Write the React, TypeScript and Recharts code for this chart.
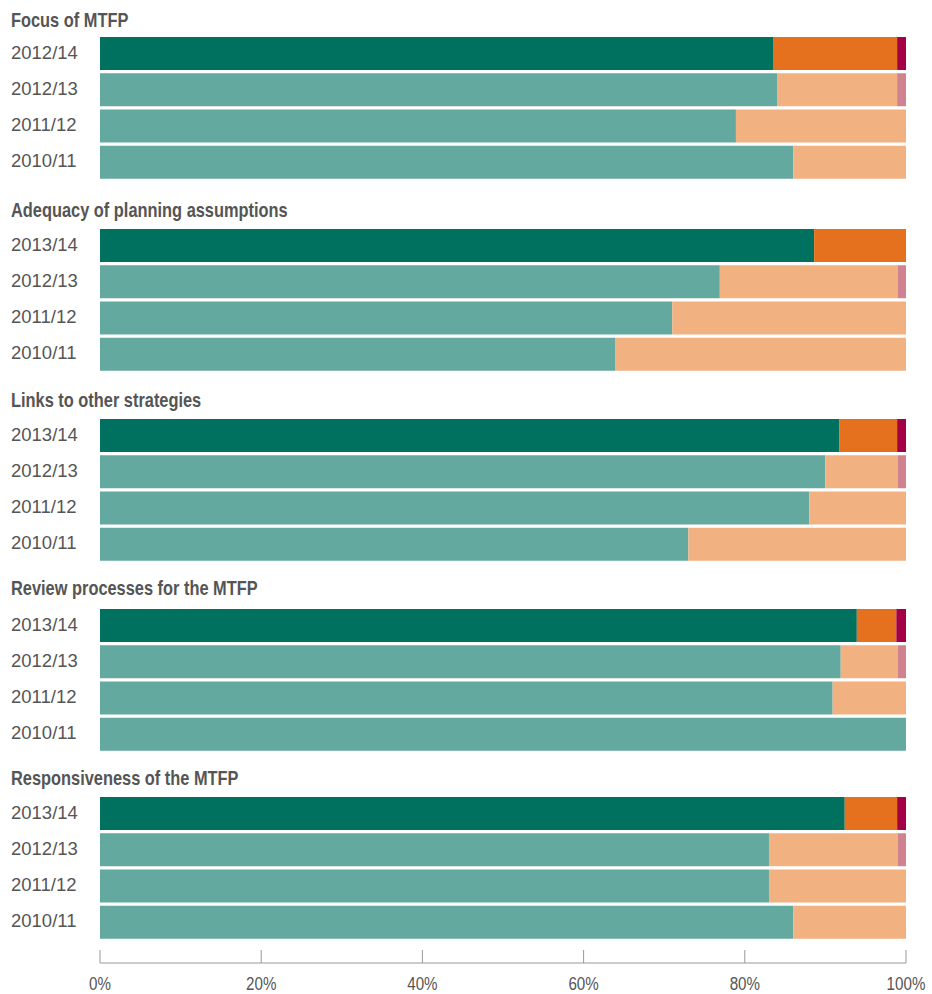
import React from 'react';
import { BarChart, Bar, XAxis, YAxis, Cell } from 'recharts';

// Section titles, top to bottom
const GROUP_TITLES = [
  'Focus of MTFP',
  'Adequacy of planning assumptions',
  'Links to other strategies',
  'Review processes for the MTFP',
  'Responsiveness of the MTFP',
];

// Year labels per row
const YEARS_FOCUS = ['2012/14', '2012/13', '2011/12', '2010/11'];
const YEARS = ['2013/14', '2012/13', '2011/12', '2010/11'];

// Percent shares: first / second / third segment of each bar
const FOCUS_A = [83.5, 84.0, 78.9, 86.0];
const FOCUS_B = [15.4, 14.9, 21.1, 14.0];
const FOCUS_C = [1.1, 1.1, 0, 0];

const ADEQUACY_A = [88.6, 76.9, 71.0, 63.9];
const ADEQUACY_B = [11.4, 22.1, 29.0, 36.1];
const ADEQUACY_C = [0, 1.0, 0, 0];

const LINKS_A = [91.7, 90.0, 88.0, 73.0];
const LINKS_B = [7.2, 9.0, 12.0, 27.0];
const LINKS_C = [1.1, 1.0, 0, 0];

const REVIEW_A = [93.9, 91.9, 90.9, 100];
const REVIEW_B = [4.9, 7.1, 9.1, 0];
const REVIEW_C = [1.2, 1.0, 0, 0];

const RESPONSIVE_A = [92.4, 83.0, 83.0, 86.0];
const RESPONSIVE_B = [6.5, 16.0, 17.0, 14.0];
const RESPONSIVE_C = [1.1, 1.0, 0, 0];

const X_TICKS = [0, 20, 40, 60, 80, 100];

// Latest year uses the strong palette, earlier years the pale one
const COLORS_CURRENT = ['#00705F', '#E5711F', '#A30046'];
const COLORS_PRIOR = ['#64A9A0', '#F2B181', '#CF828F'];

type Row = { year: string; a: number; b: number; c: number };

const buildRows = (years: string[], a: number[], b: number[], c: number[]): Row[] =>
  years.map((year, i) => ({ year, a: a[i], b: b[i], c: c[i] }));

const GROUP_ROWS: Row[][] = [
  buildRows(YEARS_FOCUS, FOCUS_A, FOCUS_B, FOCUS_C),
  buildRows(YEARS, ADEQUACY_A, ADEQUACY_B, ADEQUACY_C),
  buildRows(YEARS, LINKS_A, LINKS_B, LINKS_C),
  buildRows(YEARS, REVIEW_A, REVIEW_B, REVIEW_C),
  buildRows(YEARS, RESPONSIVE_A, RESPONSIVE_B, RESPONSIVE_C),
];

// Layout
const WIDTH = 932;
const HEIGHT = 994;
const PLOT_LEFT = 100;
const PLOT_RIGHT = 26;
const GROUP_TOPS = [35.4, 227.4, 417.4, 606.7, 795.4];
const TITLE_BASELINES = [26.7, 216.7, 406.7, 595, 784.7];
const GROUP_HEIGHT = 145;
const BAR_SIZE = 33;
const AXIS_CHART_TOP = 933;
const AXIS_PLOT_HEIGHT = 30;
const AXIS_AREA_HEIGHT = 31;

const TEXT_COLOR = '#555555';
const FONT = "'Liberation Sans', Arial, sans-serif";
// Condensed look: regular sans squeezed horizontally
const NARROW = 0.82;

const YearTick = (props: any) => {
  const { y, payload } = props;
  return (
    <text x={11} y={y} dy={5.4} fill={TEXT_COLOR} fontSize={18.5} fontFamily={FONT} textAnchor="start">
      {payload.value}
    </text>
  );
};

const PercentTick = (props: any) => {
  const { x, y, payload } = props;
  return (
    <g>
      <line x1={x} x2={x} y1={y - 13} y2={y} stroke="#999999" strokeWidth={1} />
      <text
        transform={`translate(${x} ${y + 26.5}) scale(${NARROW} 1)`}
        fill={TEXT_COLOR}
        fontSize={18.5}
        fontFamily={FONT}
        textAnchor="middle"
      >
        {`${payload.value}%`}
      </text>
    </g>
  );
};

const SEGMENTS: Array<keyof Omit<Row, 'year'>> = ['a', 'b', 'c'];

const GroupChart = ({ rows, top }: { rows: Row[]; top: number }) => (
  <div style={{ position: 'absolute', left: 0, top }}>
    <BarChart
      layout="vertical"
      width={WIDTH}
      height={GROUP_HEIGHT}
      data={rows}
      margin={{ top: 0, right: PLOT_RIGHT, bottom: 0, left: 0 }}
      barCategoryGap={0}
    >
      <XAxis type="number" domain={[0, 100]} hide allowDataOverflow />
      <YAxis
        type="category"
        dataKey="year"
        width={PLOT_LEFT}
        axisLine={false}
        tickLine={false}
        tick={<YearTick />}
        interval={0}
      />
      {SEGMENTS.map((key, si) => (
        <Bar key={key} dataKey={key} stackId="share" barSize={BAR_SIZE} isAnimationActive={false}>
          {rows.map((row, ri) => (
            <Cell key={row.year + ri} fill={ri === 0 ? COLORS_CURRENT[si] : COLORS_PRIOR[si]} />
          ))}
        </Bar>
      ))}
    </BarChart>
  </div>
);

const AxisChart = ({ rows }: { rows: Row[] }) => (
  <div style={{ position: 'absolute', left: 0, top: AXIS_CHART_TOP }}>
    <BarChart
      layout="vertical"
      width={WIDTH}
      height={AXIS_PLOT_HEIGHT + AXIS_AREA_HEIGHT}
      data={rows}
      margin={{ top: 0, right: PLOT_RIGHT, bottom: 0, left: PLOT_LEFT }}
    >
      <XAxis
        type="number"
        domain={[0, 100]}
        allowDataOverflow
        ticks={X_TICKS}
        interval={0}
        height={AXIS_AREA_HEIGHT}
        tickSize={0}
        tickMargin={0}
        axisLine={{ stroke: '#999999', strokeWidth: 1 }}
        tickLine={false}
        tick={<PercentTick />}
      />
      <YAxis type="category" dataKey="year" hide />
    </BarChart>
  </div>
);

export default function App() {
  return (
    <div style={{ position: 'absolute', left: 0, top: 0, width: WIDTH, height: HEIGHT, background: '#ffffff' }}>
      {GROUP_ROWS.map((rows, gi) => (
        <GroupChart key={GROUP_TITLES[gi]} rows={rows} top={GROUP_TOPS[gi]} />
      ))}
      <AxisChart rows={GROUP_ROWS[GROUP_ROWS.length - 1]} />
      <svg
        width={WIDTH}
        height={HEIGHT}
        style={{ position: 'absolute', left: 0, top: 0, pointerEvents: 'none' }}
      >
        {GROUP_TITLES.map((title, gi) => (
          <text
            key={title}
            transform={`translate(11 ${TITLE_BASELINES[gi]}) scale(${NARROW} 1)`}
            fill={TEXT_COLOR}
            fontSize={20}
            fontWeight="bold"
            fontFamily={FONT}
          >
            {title}
          </text>
        ))}
      </svg>
    </div>
  );
}
